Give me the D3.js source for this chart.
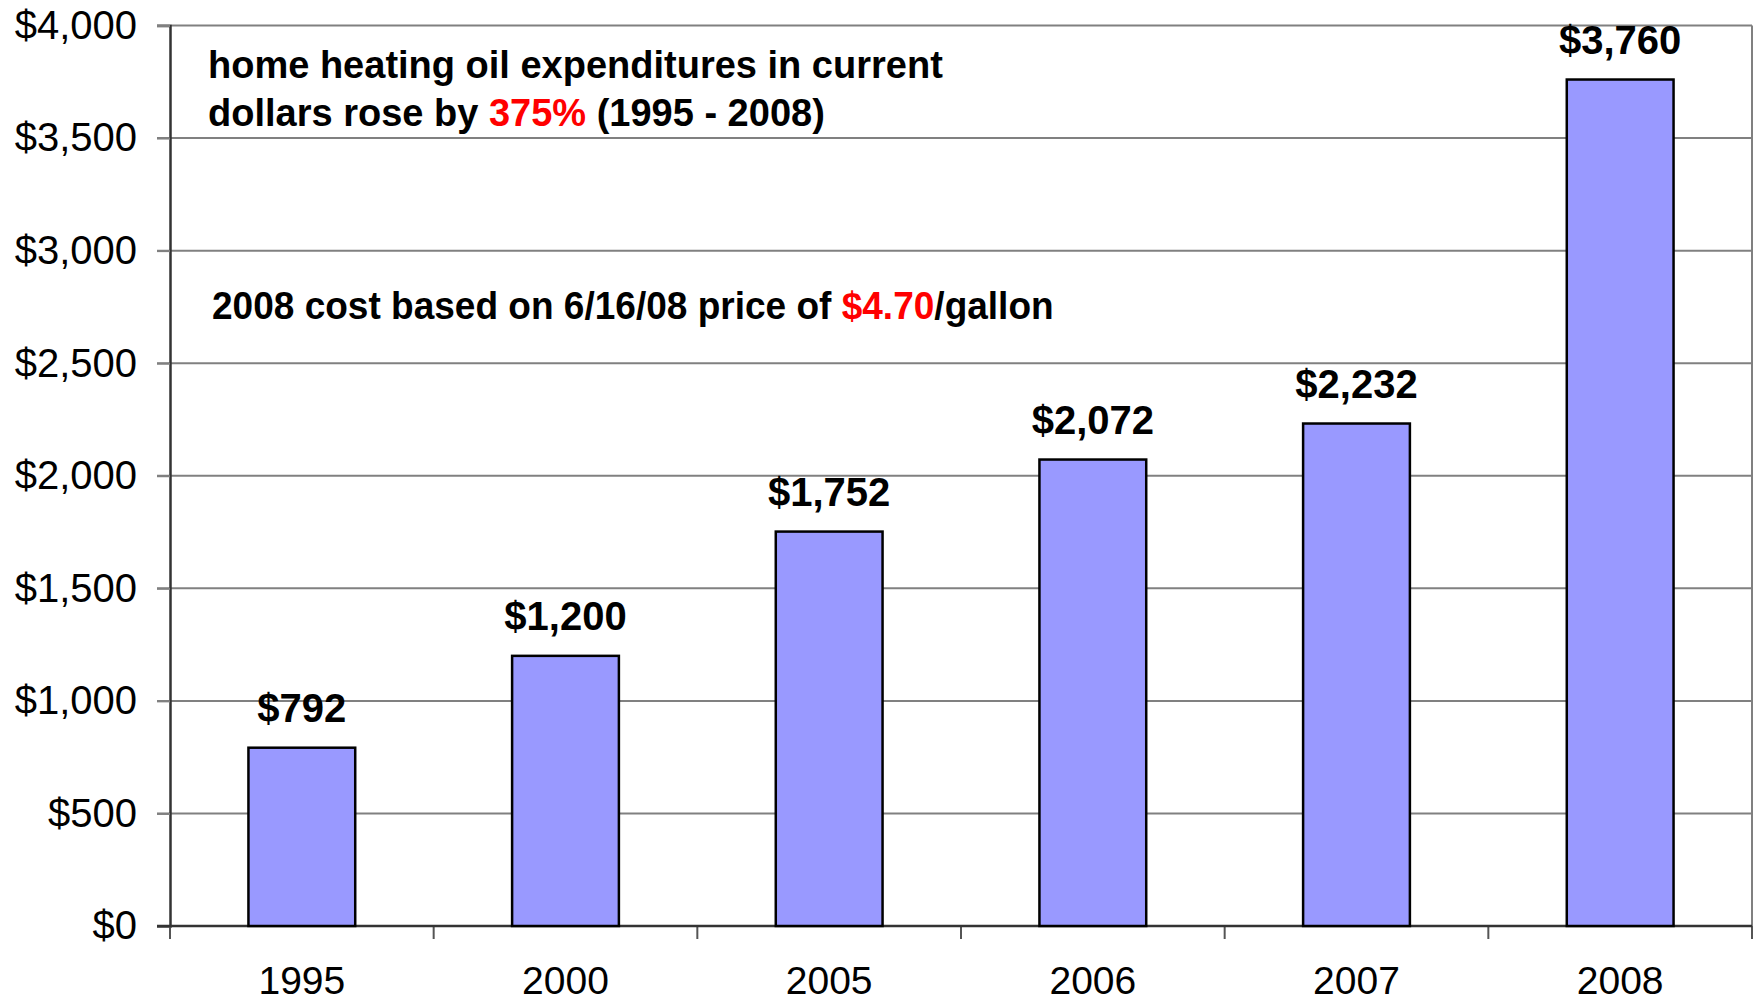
<!DOCTYPE html>
<html>
<head>
<meta charset="utf-8">
<script src="https://cdn.jsdelivr.net/npm/d3@7"></script>
<style>
  body { margin: 0; background: #fff; }
  text { font-family: "Liberation Sans", Arial, sans-serif; }
</style>
</head>
<body>
<svg id="chart"></svg>
<script>
// chart data
var years = ['1995', '2000', '2005', '2006', '2007', '2008'];
var costs = [792, 1200, 1752, 2072, 2232, 3760];
var costLabels = ['$792', '$1,200', '$1,752', '$2,072', '$2,232', '$3,760'];
var yTicks = [0, 500, 1000, 1500, 2000, 2500, 3000, 3500, 4000];

var width = 1756, height = 1004;
var margin = {top: 25.5, right: 4, bottom: 78, left: 170};

var svg = d3.select('#chart')
    .attr('width', width)
    .attr('height', height);

var x = d3.scaleBand()
    .domain(years)
    .range([margin.left, width - margin.right])
    .paddingInner(0.595)
    .paddingOuter(0.2975);

var y = d3.scaleLinear()
    .domain([0, 4000])
    .range([height - margin.bottom, margin.top]);

var fmt = d3.format(',');

// horizontal gridlines
svg.append('g')
    .selectAll('line')
    .data(yTicks.filter(function(d) { return d > 0; }))
    .enter().append('line')
    .attr('x1', margin.left - 13)
    .attr('x2', width - margin.right)
    .attr('y1', function(d) { return y(d); })
    .attr('y2', function(d) { return y(d); })
    .attr('stroke', '#808080')
    .attr('stroke-width', 2);

// right border of plot area
svg.append('line')
    .attr('x1', width - margin.right).attr('x2', width - margin.right)
    .attr('y1', y(4000)).attr('y2', y(0))
    .attr('stroke', '#808080')
    .attr('stroke-width', 2);

// y axis
var yAxis = svg.append('g')
    .attr('transform', 'translate(' + margin.left + ',0)')
    .call(d3.axisLeft(y)
        .tickValues(yTicks)
        .tickSize(13)
        .tickPadding(20)
        .tickFormat(function(d) { return '$' + fmt(d); }));

yAxis.select('.domain').attr('stroke', '#333').attr('stroke-width', 2.5);
yAxis.selectAll('.tick line').attr('stroke', '#808080').attr('stroke-width', 2);
yAxis.selectAll('.tick text')
    .attr('fill', '#000')
    .style('font-size', '40px')
    .style('font-family', '"Liberation Sans", Arial, sans-serif');

// x axis, ticks on category boundaries
var step = x.step();
var edges = d3.range(years.length + 1).map(function(i) { return margin.left + i * step; });

svg.append('g')
    .selectAll('line')
    .data(edges)
    .enter().append('line')
    .attr('x1', function(d) { return d; })
    .attr('x2', function(d) { return d; })
    .attr('y1', y(0))
    .attr('y2', y(0) + 13)
    .attr('stroke', '#555')
    .attr('stroke-width', 2);

svg.append('line')
    .attr('x1', margin.left - 13)
    .attr('x2', width - margin.right)
    .attr('y1', y(0))
    .attr('y2', y(0))
    .attr('stroke', '#333')
    .attr('stroke-width', 2.5);

svg.append('g')
    .selectAll('text')
    .data(years)
    .enter().append('text')
    .attr('x', function(d) { return x(d) + x.bandwidth() / 2; })
    .attr('y', 994)
    .attr('text-anchor', 'middle')
    .style('font-size', '39px')
    .text(function(d) { return d; });

// bars
svg.append('g')
    .selectAll('rect')
    .data(costs)
    .enter().append('rect')
    .attr('x', function(d, i) { return x(years[i]); })
    .attr('width', x.bandwidth())
    .attr('y', function(d) { return y(d); })
    .attr('height', function(d) { return y(0) - y(d); })
    .attr('fill', '#9999ff')
    .attr('stroke', '#000')
    .attr('stroke-width', 2.5);

// value labels
svg.append('g')
    .selectAll('text')
    .data(costs)
    .enter().append('text')
    .attr('x', function(d, i) { return x(years[i]) + x.bandwidth() / 2; })
    .attr('y', function(d) { return y(d) - 26; })
    .attr('text-anchor', 'middle')
    .style('font-size', '40px')
    .style('font-weight', 'bold')
    .text(function(d, i) { return costLabels[i]; });

// annotations
var note1 = svg.append('text')
    .style('font-size', '38px')
    .style('font-weight', 'bold');
note1.append('tspan')
    .attr('x', 208).attr('y', 78)
    .text('home heating oil expenditures in current');
var l2 = note1.append('tspan')
    .attr('x', 208).attr('y', 126);
l2.append('tspan').text('dollars rose by ');
l2.append('tspan').attr('fill', '#ff0000').text('375%');
l2.append('tspan').text(' (1995 - 2008)');

// second note is set in a narrow face, so squeeze it to the reference width
var note2 = svg.append('text')
    .style('font-size', '39px')
    .style('font-weight', 'bold');
note2.append('tspan').text('2008 cost based on 6/16/08 price of ');
note2.append('tspan').attr('fill', '#ff0000').text('$4.70');
note2.append('tspan').text('/gallon');
var w2 = note2.node().getComputedTextLength();
note2.attr('transform', 'translate(212,319) scale(' + (842 / w2) + ',1)');
</script>
</body>
</html>
